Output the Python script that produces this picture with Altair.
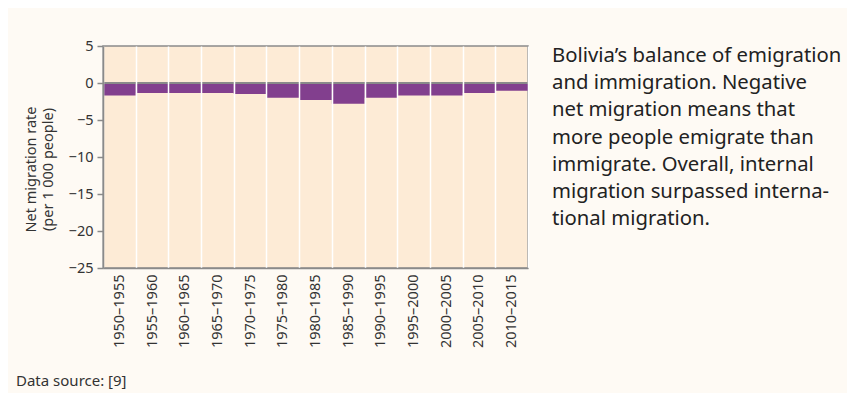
import altair as alt
import pandas as pd

periods = ["1950–1955", "1955–1960", "1960–1965", "1965–1970", "1970–1975",
           "1975–1980", "1980–1985", "1985–1990", "1990–1995", "1995–2000",
           "2000–2005", "2005–2010", "2010–2015"]
rates = [-1.7, -1.35, -1.35, -1.35, -1.5, -2.0, -2.3, -2.8, -2.0, -1.7, -1.7, -1.35, -1.05]
y_ticks = [5, 0, -5, -10, -15, -20, -25]
y_title = ["Net migration rate", "(per 1 000 people)"]
caption_lines = [
    "Bolivia’s balance of emigration",
    "and immigration. Negative",
    "net migration means that",
    "more people emigrate than",
    "immigrate. Overall, internal",
    "migration surpassed interna-",
    "tional migration.",
]
source_note = "Data source: [9]"

FONT = "Noto Sans"
GRAY = "#8a8a8a"
TXT = "#333333"

df = pd.DataFrame({"period": periods, "rate": rates})
base = alt.Chart(df)

y_axis = alt.Axis(values=y_ticks, title=y_title, grid=False,
                  labelOverlap=False, labelBound=False,
                  tickSize=6, tickColor=GRAY, tickWidth=1.5,
                  domainColor=GRAY, domainWidth=1.5,
                  labelFont=FONT, labelFontSize=14.5, labelColor=TXT,
                  labelPadding=4,
                  titleFont=FONT, titleFontSize=14.5, titleFontWeight="normal",
                  titleColor=TXT, titleLineHeight=17, titlePadding=13,
                  titleY=123, titleAlign="center",
                  zindex=2)
y_scale = alt.Scale(domain=[-25, 5], nice=False, zero=False)

bars = base.mark_bar(color="#823F8E").encode(
    x=alt.X("period:N", sort=periods,
            scale=alt.Scale(paddingInner=0, paddingOuter=0),
            axis=alt.Axis(title=None, labelAngle=-90, tickBand="extent", ticks=False,
                          grid=True, gridColor="white", gridWidth=1.5,
                          domainColor=GRAY, domainWidth=1.5,
                          labelFont=FONT, labelFontSize=14.5, labelColor=TXT,
                          labelPadding=6, zindex=1)),
    y=alt.Y("rate:Q", scale=y_scale, axis=y_axis),
)

zero = base.mark_rule(color=GRAY, strokeWidth=1.5).encode(
    y=alt.datum(0, scale=y_scale, axis=y_axis))

caption = alt.Chart(pd.DataFrame({"t": [0]})).mark_text(
    align="left", baseline="alphabetic", font=FONT, fontSize=20.3,
    lineHeight=27.2, color="#222222"
).encode(x=alt.value(449), y=alt.value(16), text=alt.value(caption_lines))

source = alt.Chart(pd.DataFrame({"t": [0]})).mark_text(
    align="left", baseline="alphabetic", font=FONT, fontSize=15, color=TXT
).encode(x=alt.value(-87), y=alt.value(340), text=alt.value(source_note))

chart = alt.layer(bars, zero, caption, source).properties(
    width=425, height=222,
    padding={"left": 95, "top": 38, "right": 319, "bottom": 125},
    autosize=alt.AutoSizeParams(type="none"),
).configure(background="#FEFAF4").configure_axisY(
    labelOverlap=False
).configure_view(
    fill="#FDEBD6", stroke=GRAY, strokeWidth=1.5
)

chart.save("out.html", embed_options={"renderer": "svg", "actions": False})
